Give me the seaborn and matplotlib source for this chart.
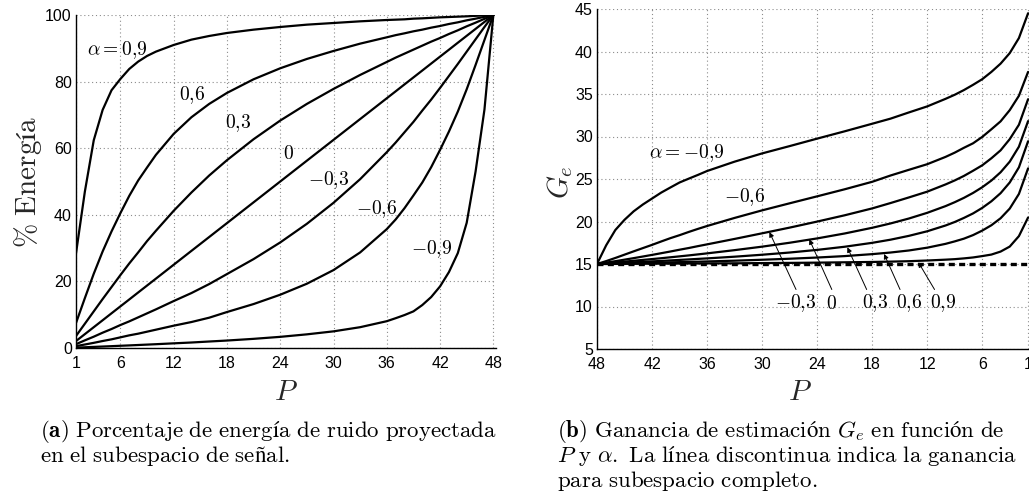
import numpy as np
import pandas as pd
import matplotlib
matplotlib.use("Agg")
import matplotlib.pyplot as plt
from matplotlib.ticker import FixedLocator, MultipleLocator
from matplotlib.transforms import ScaledTranslation
import seaborn as sns

sns.set_style("white")
plt.rcParams["font.family"] = ["Liberation Sans", "DejaVu Sans"]
plt.rcParams["mathtext.fontset"] = "cm"

# Subspace dimension
P = [1, 2, 3, 4, 5, 6, 7, 8, 9, 10, 12, 14, 16, 18, 21, 24, 27, 30, 33,
     36, 37, 38, 39, 40, 41, 42, 43, 44, 45, 46, 47, 48]

# (a) % of projected noise energy, one list per alpha
energy_p09 = [28.4, 47.0, 62.4, 71.5, 77.4, 80.8, 83.8, 86.0, 87.7, 89.0, 91.0, 92.6, 93.7, 94.6, 95.6, 96.4, 97.1, 97.6, 98.1,
              98.5, 98.6, 98.7, 98.9, 99.0, 99.15, 99.3, 99.4, 99.5, 99.6, 99.75, 99.88, 100]
energy_p06 = [7.5, 15.0, 22.3, 29.0, 35.0, 40.5, 45.7, 50.3, 54.2, 58.0, 64.3, 69.3, 73.3, 76.6, 80.7, 84.0, 86.8, 89.2, 91.4,
              93.3, 93.95, 94.5, 95.1, 95.6, 96.2, 96.7, 97.3, 97.8, 98.4, 98.9, 99.45, 100]
energy_p03 = [3.6, 7.3, 11.0, 14.7, 18.3, 21.9, 25.4, 28.7, 32.1, 35.2, 41.2, 46.7, 51.8, 56.4, 62.7, 68.3, 73.3, 77.8, 82.0,
              85.9, 87.2, 88.4, 89.6, 90.8, 92.0, 93.1, 94.3, 95.4, 96.6, 97.7, 98.85, 100]
energy_0 = [2.08, 4.17, 6.25, 8.33, 10.42, 12.5, 14.58, 16.67, 18.75, 20.83, 25.0, 29.17, 33.33, 37.5, 43.75, 50.0, 56.25, 62.5, 68.75,
            75.0, 77.08, 79.17, 81.25, 83.33, 85.42, 87.5, 89.58, 91.67, 93.75, 95.83, 97.92, 100]
energy_m03 = [1.15, 2.3, 3.4, 4.6, 5.7, 6.9, 8.0, 9.2, 10.4, 11.6, 14.1, 16.5, 19.2, 22.2, 26.7, 31.7, 37.3, 43.6, 50.7,
              58.8, 61.7, 64.8, 67.9, 71.3, 74.6, 78.1, 81.7, 85.3, 89.0, 92.7, 96.4, 100]
energy_m06 = [0.55, 1.05, 1.55, 2.1, 2.6, 3.2, 3.8, 4.3, 4.9, 5.5, 6.7, 7.8, 9.1, 10.8, 13.2, 16.0, 19.3, 23.4, 28.7,
              35.7, 38.6, 42.0, 45.8, 49.7, 54.3, 59.5, 65.0, 71.0, 77.7, 85.0, 92.5, 100]
energy_m09 = [0.11, 0.22, 0.33, 0.44, 0.55, 0.67, 0.78, 0.9, 1.02, 1.14, 1.4, 1.65, 1.95, 2.24, 2.75, 3.35, 4.1, 5.0, 6.25,
              8.05, 8.95, 9.9, 11.0, 12.9, 15.3, 18.5, 22.8, 28.5, 37.6, 53.0, 71.6, 100]

# (b) estimation gain G_e, one list per alpha
gain_p09 = [20.47, 18.28, 17.05, 16.46, 16.11, 15.93, 15.77, 15.66, 15.57, 15.51, 15.41, 15.33, 15.28, 15.24, 15.20, 15.16, 15.13, 15.11, 15.08,
            15.07, 15.06, 15.06, 15.05, 15.04, 15.04, 15.03, 15.03, 15.02, 15.02, 15.01, 15.0, 15.0]
gain_p06 = [26.25, 23.24, 21.52, 20.38, 19.56, 18.93, 18.40, 17.98, 17.66, 17.37, 16.92, 16.59, 16.35, 16.16, 15.93, 15.76, 15.62, 15.50, 15.39,
            15.30, 15.27, 15.25, 15.22, 15.20, 15.17, 15.15, 15.12, 15.10, 15.07, 15.05, 15.02, 15.0]
gain_p03 = [29.44, 26.37, 24.59, 23.33, 22.38, 21.60, 20.95, 20.42, 19.94, 19.53, 18.85, 18.31, 17.86, 17.49, 17.03, 16.66, 16.35, 16.09, 15.86,
            15.66, 15.60, 15.54, 15.48, 15.42, 15.36, 15.31, 15.25, 15.20, 15.15, 15.10, 15.05, 15.0]
gain_0 = [31.81, 28.80, 27.04, 25.79, 24.82, 24.03, 23.36, 22.78, 22.27, 21.81, 21.02, 20.35, 19.77, 19.26, 18.59, 18.01, 17.50, 17.04, 16.63,
          16.25, 16.13, 16.01, 15.90, 15.79, 15.68, 15.58, 15.48, 15.38, 15.28, 15.18, 15.09, 15.0]
gain_m03 = [34.39, 31.38, 29.69, 28.37, 27.44, 26.61, 25.97, 25.36, 24.83, 24.36, 23.51, 22.83, 22.17, 21.54, 20.73, 19.99, 19.28, 18.61, 17.95,
            17.31, 17.10, 16.88, 16.68, 16.47, 16.27, 16.07, 15.88, 15.69, 15.51, 15.33, 15.16, 15.0]
gain_m06 = [37.60, 34.79, 33.10, 31.78, 30.85, 29.95, 29.20, 28.67, 28.10, 27.60, 26.74, 26.08, 25.41, 24.67, 23.79, 22.96, 22.14, 21.31, 20.42,
            19.47, 19.13, 18.77, 18.39, 18.04, 17.65, 17.25, 16.87, 16.49, 16.10, 15.71, 15.34, 15.0]
gain_m09 = [44.5, 41.58, 39.81, 38.57, 37.60, 36.74, 36.08, 35.46, 34.91, 34.43, 33.54, 32.83, 32.10, 31.50, 30.61, 29.75, 28.87, 28.01, 27.04,
            25.94, 25.48, 25.04, 24.59, 24.0, 23.4, 22.7, 22.0, 21.2, 20.2, 19.0, 17.2, 15.0]

# Gain with the complete subspace
gain_full = 15.0

alpha_names = ["0,9", "0,6", "0,3", "0", "-0,3", "-0,6", "-0,9"]
energy_series = [energy_p09, energy_p06, energy_p03, energy_0, energy_m03, energy_m06, energy_m09]
gain_series = [gain_p09, gain_p06, gain_p03, gain_0, gain_m03, gain_m06, gain_m09]

x_ticks_a = [1, 6, 12, 18, 24, 30, 36, 42, 48]
x_ticks_b = [48, 42, 36, 30, 24, 18, 12, 6, 1]

df = pd.DataFrame({
    "P": P * len(alpha_names),
    "alpha": np.repeat(alpha_names, len(P)),
    "energia": np.concatenate(energy_series),
    "ganancia": np.concatenate(gain_series),
})

W, H = 1029, 501
fig = plt.figure(figsize=(W / 100, H / 100), dpi=100)
ax1 = fig.add_axes([76 / W, 1 - 348 / H, 420 / W, 333 / H])
ax2 = fig.add_axes([597 / W, 1 - 349 / H, 432 / W, 340 / H])

sns.lineplot(data=df, x="P", y="energia", units="alpha", estimator=None,
             color="black", lw=1.6, ax=ax1, legend=False)
sns.lineplot(data=df, x="P", y="ganancia", units="alpha", estimator=None,
             color="black", lw=1.6, ax=ax2, legend=False)
ax2.axhline(gain_full, color="black", lw=2.4, ls=(0, (1.8, 1.3)), zorder=3)

for ax in (ax1, ax2):
    for side in ("top", "right"):
        ax.spines[side].set_visible(False)
    for side in ("left", "bottom"):
        ax.spines[side].set_linewidth(1.0)
        ax.spines[side].set_color("black")
    ax.grid(True, which="major", ls=(0, (1, 2.5)), color="0.55", lw=0.8)
    ax.tick_params(which="major", direction="in", length=4, width=0.8,
                   labelsize=11.5, pad=3, colors="black")
    ax.tick_params(axis="x", which="major", pad=6)
    ax.tick_params(which="minor", direction="in", length=2, width=0.5)
    ax.set_axisbelow(True)

ax1.set_xlim(1, 48.3)
ax1.set_ylim(0, 100)
ax1.xaxis.set_major_locator(FixedLocator(x_ticks_a))
ax1.xaxis.set_minor_locator(MultipleLocator(1))
ax1.yaxis.set_major_locator(MultipleLocator(20))
ax1.yaxis.set_minor_locator(MultipleLocator(4))

ax2.set_xlim(48, 0.9)
ax2.set_ylim(5, 45)
ax2.xaxis.set_major_locator(FixedLocator(x_ticks_b))
ax2.xaxis.set_minor_locator(MultipleLocator(1))
ax2.yaxis.set_major_locator(MultipleLocator(5))
ax2.yaxis.set_minor_locator(MultipleLocator(1))

# lift the lowest gain label a little so it clears the "48" below it
low_label = ax2.yaxis.get_major_ticks()[0].label1
low_label.set_transform(low_label.get_transform() + ScaledTranslation(0, 3 / 72, fig.dpi_scale_trans))

ax1.set_xlabel(r"$P$", fontsize=21)
ax1.set_ylabel(r"$\%\ \mathrm{Energía}$", fontsize=21)
ax1.xaxis.set_label_coords(0.5, -0.09)
ax1.yaxis.set_label_coords(-0.077, 0.5)
ax2.set_xlabel(r"$P$", fontsize=21)
ax2.set_ylabel(r"$G_e$", fontsize=21)
ax2.xaxis.set_label_coords(0.47, -0.085)
ax2.yaxis.set_label_coords(-0.052, 0.49)

lab = dict(fontsize=14, ha="center", va="center", color="black")
labels_a = [(r"$\alpha = 0{,}9$", 5.7, 89.5), (r"$0{,}6$", 14.1, 76.0), (r"$0{,}3$", 19.3, 67.7),
            (r"$0$", 24.95, 58.2), (r"$-0{,}3$", 29.5, 50.5), (r"$-0{,}6$", 34.8, 41.6),
            (r"$-0{,}9$", 41.0, 29.6)]
for text, x, y in labels_a:
    ax1.text(x, y, text, **lab)

ax2.text(38.2, 28.0, r"$\alpha = -0{,}9$", **lab)
ax2.text(31.9, 22.85, r"$-0{,}6$", **lab)

# labels under the crowded curves, with arrows pointing up to each one
arrows_b = [(r"$-0{,}3$", 26.3, 26.3, 29.2, 18.75), (r"$0$", 22.4, 22.4, 24.85, 17.9),
            (r"$0{,}3$", 17.7, 18.6, 20.7, 16.96), (r"$0{,}6$", 13.94, 14.96, 16.7, 16.18),
            (r"$0{,}9$", 10.3, 11.2, 12.96, 15.2)]
for text, xt, xtail, xh, yh in arrows_b:
    ax2.text(xt, 10.35, text, **lab)
    ax2.annotate("", xy=(xh, yh), xytext=(xtail, 12.0),
                 arrowprops=dict(arrowstyle="-|>", color="black", lw=0.7,
                                 mutation_scale=7, shrinkA=0, shrinkB=0))


def rm(s):
    return r"\mathrm{" + s.replace(" ", r"\ ") + "}"


cap = dict(fontsize=16.5, va="baseline", ha="left", color="black")
fig.text(40 / W, 1 - 437 / H, "$" + r"\mathbf{(a)}\ " + rm("Porcentaje de energía de ruido proyectada") + "$", **cap)
fig.text(40 / W, 1 - 462 / H, "$" + rm("en el subespacio de señal.") + "$", **cap)
fig.text(557 / W, 1 - 437 / H, "$" + r"\mathbf{(b)}\ " + rm("Ganancia de estimación") + r"\ G_e\ "
         + rm("en función de") + "$", **cap)
fig.text(557 / W, 1 - 462 / H, "$P\\ " + rm("y") + r"\ \alpha\mathbf{.}\ " + rm("La línea discontinua indica la ganancia") + "$", **cap)
fig.text(557 / W, 1 - 487 / H, "$" + rm("para subespacio completo.") + "$", **cap)

fig.savefig("out.png", dpi=100)
